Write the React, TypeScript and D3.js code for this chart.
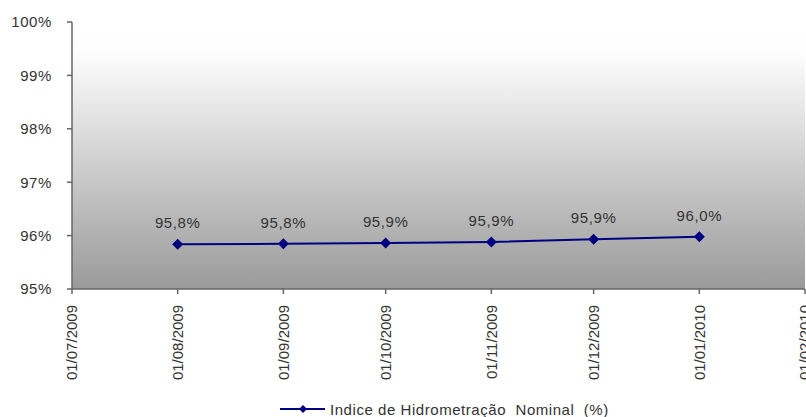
import React from "react";
import * as d3 from "d3";

const WIDTH = 806;
const HEIGHT = 417;
const MARGIN = { top: 22, right: 1, bottom: 128, left: 72 };

const dates = ["2009-08-01", "2009-09-01", "2009-10-01", "2009-11-01", "2009-12-01", "2010-01-01"];
const values = [95.84, 95.846, 95.86, 95.88, 95.93, 95.98];
const xTickDates = [
  "2009-07-01", "2009-08-01", "2009-09-01", "2009-10-01",
  "2009-11-01", "2009-12-01", "2010-01-01", "2010-02-01",
];
const yTicks = [95, 96, 97, 98, 99, 100];
const seriesName = "Indice de Hidrometração  Nominal  (%)";

const parse = d3.utcParse("%Y-%m-%d");
const fmtDate = d3.utcFormat("%d/%m/%Y");
const FONT = "'Liberation Sans', Arial, sans-serif";

// rotated square, the way the spreadsheet draws its markers
const diamondPath = (r: number) => `M0,${-r}L${r},0L0,${r}L${-r},0Z`;

const App = () => {
  const boundsWidth = WIDTH - MARGIN.left - MARGIN.right;
  const boundsHeight = HEIGHT - MARGIN.top - MARGIN.bottom;

  const xScale = d3
    .scaleUtc()
    .domain([parse(xTickDates[0])!, parse(xTickDates[xTickDates.length - 1])!])
    .range([0, boundsWidth]);
  const yScale = d3.scaleLinear().domain([95, 100]).range([boundsHeight, 0]);

  const points = dates.map((d, i) => ({ x: xScale(parse(d)!), y: yScale(values[i]), v: values[i] }));
  const line = d3.line<{ x: number; y: number }>().x((d) => d.x).y((d) => d.y)(points) ?? "";

  return (
    <svg width={WIDTH} height={HEIGHT} style={{ position: "absolute", left: 0, top: 0 }}>
      <defs>
        <linearGradient id="bg" x1="0" y1="0" x2="0" y2="1">
          <stop offset="0%" stopColor="#ffffff" />
          <stop offset="12%" stopColor="#fdfdfd" />
          <stop offset="100%" stopColor="#9a9a9a" />
        </linearGradient>
      </defs>
      <rect width={WIDTH} height={HEIGHT} fill="#ffffff" />
      <g transform={`translate(${MARGIN.left},${MARGIN.top})`}>
        <rect width={boundsWidth} height={boundsHeight} fill="url(#bg)" />

        {/* y axis */}
        <line x1={0} x2={0} y1={0} y2={boundsHeight} stroke="#666" strokeWidth={1.5} />
        {yTicks.map((t) => (
          <g key={t} transform={`translate(0,${yScale(t)})`}>
            <line x1={-5} x2={0} stroke="#666" strokeWidth={1.5} />
            <text x={-20} dy="0.36em" textAnchor="end" fontFamily={FONT} fontSize={15} letterSpacing={0.6} fill="#333">
              {t}%
            </text>
          </g>
        ))}

        {/* x axis */}
        <line x1={0} x2={boundsWidth} y1={boundsHeight} y2={boundsHeight} stroke="#666" strokeWidth={1.5} />
        {xTickDates.map((d) => {
          const x = xScale(parse(d)!);
          return (
            <g key={d} transform={`translate(${x},${boundsHeight})`}>
              <line y1={0} y2={5} stroke="#666" strokeWidth={1.5} />
              <text
                transform="translate(0,16) rotate(-90)"
                dy="0.36em"
                textAnchor="end"
                fontFamily={FONT}
                fontSize={15}
                fill="#333"
              >
                {fmtDate(parse(d)!)}
              </text>
            </g>
          );
        })}

        {/* series */}
        <path d={line} fill="none" stroke="#000080" strokeWidth={2} />
        {points.map((p, i) => (
          <g key={i}>
            <path d={diamondPath(5.5)} transform={`translate(${p.x},${p.y})`} fill="#000080" />
            <text x={p.x} y={p.y - 16} textAnchor="middle" fontFamily={FONT} fontSize={15} letterSpacing={0.6} fill="#333">
              {p.v.toFixed(1).replace(".", ",")}%
            </text>
          </g>
        ))}
      </g>

      {/* legend */}
      <g transform="translate(280,409)">
        <line x1={0} x2={45} stroke="#000080" strokeWidth={2} />
        <path d={diamondPath(4)} transform="translate(23,0)" fill="#000080" />
        <text x={50} y={6} fontFamily={FONT} fontSize={15} letterSpacing={0.55} fill="#333" style={{ whiteSpace: "pre" }}>
          {seriesName}
        </text>
      </g>
    </svg>
  );
};

export default App;
